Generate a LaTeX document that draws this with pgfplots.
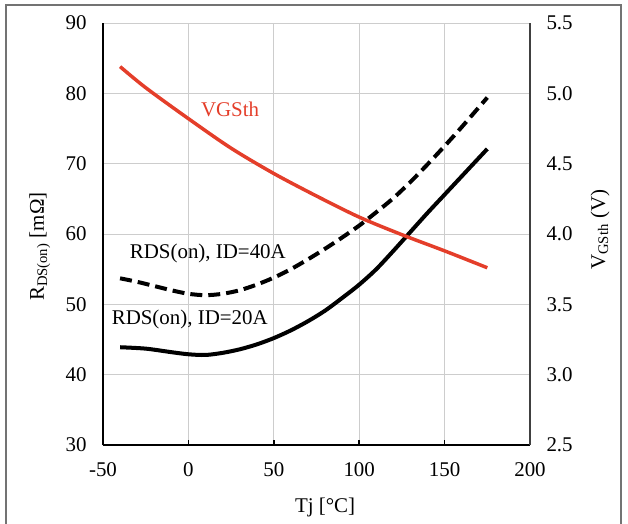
\documentclass[border=0pt]{standalone}
\usepackage{fontspec}
\setmainfont{Liberation Serif}
\usepackage{pgfplots}
\pgfplotsset{compat=1.18}
\definecolor{vgsred}{RGB}{228,62,42}
\definecolor{gridgray}{RGB}{205,205,205}
\definecolor{framegray}{RGB}{115,115,115}

\begin{document}
\begin{tikzpicture}
\pgfplotsset{
  every axis/.append style={
    scale only axis, width=427bp, height=422bp,
    xmin=-50, xmax=200,
    font=\fontsize{21}{25}\selectfont,
    /pgf/number format/assume math mode=true,
  }
}
% left axis: RDS(on)
\begin{axis}[
  axis x line*=bottom, axis y line*=left,
  axis line style={-, line width=1.8bp, black},
  ymin=30, ymax=90,
  xtick={-50,0,50,100,150,200}, ytick={30,40,50,60,70,80,90},
  grid=major, major grid style={gridgray, line width=1bp},
  tick align=inside, major tick length=5bp,
  ytick style={draw=none},
  xtick style={black, line width=1.5bp},
  xticklabel style={yshift=-14bp},
  yticklabel style={xshift=-13bp},
  xlabel={Tj [°C]},
  xlabel style={at={(axis description cs:0.52,-0.148)}, anchor=center},
  ylabel={R\textsubscript{DS(on)} [mΩ]},
  ylabel style={at={(axis description cs:-0.148,0.47)}, anchor=center},
]
% ID = 20 A
\addplot[black, line width=4bp, smooth] coordinates {
  (-40,43.9) (-25,43.7) (-10,43.2) (0,42.9) (10,42.8) (20,43.1) (30,43.6)
  (40,44.3) (50,45.2) (60,46.3) (70,47.6) (80,49.1) (90,50.9) (100,52.8)
  (110,55.0) (120,57.6) (130,60.3) (140,63.0) (150,65.6) (160,68.2)
  (170,70.8) (175,72.1)
};
% ID = 40 A
\addplot[black, line width=4bp, smooth, dash pattern=on 12bp off 6bp] coordinates {
  (-40,53.7) (-30,53.2) (-20,52.6) (-10,52.0) (0,51.5) (10,51.3) (20,51.5)
  (30,52.0) (40,52.8) (50,53.8) (60,55.0) (70,56.4) (80,57.9) (90,59.5)
  (100,61.2) (110,63.1) (120,65.1) (130,67.4) (140,69.9) (150,72.5)
  (160,75.2) (170,78.0) (175,79.4)
};
\node[vgsred] at (axis cs:24.4,77.7) {VGSth};
\node at (axis cs:11.4,57.3) {RDS(on), ID=40A};
\node at (axis cs:0.8,47.8) {RDS(on), ID=20A};
\end{axis}
% right axis: VGSth
\begin{axis}[
  axis y line*=right, axis x line=none,
  axis line style={-, line width=1.8bp, black!75},
  ymin=2.5, ymax=5.5, ytick={2.5,3.0,3.5,4.0,4.5,5.0,5.5},
  yticklabel style={xshift=13bp, /pgf/number format/.cd, fixed, fixed zerofill, precision=1},
  ytick style={draw=none},
  ylabel={V\textsubscript{GSth} (V)},
  ylabel style={at={(axis description cs:1.164,0.51)}, anchor=center, rotate=0},
]
\addplot[vgsred, line width=3.5bp, smooth] coordinates {
  (-40,5.19) (-25,5.04) (0,4.82) (25,4.61) (50,4.43) (75,4.27)
  (100,4.12) (125,3.995) (150,3.88) (175,3.76)
};
\end{axis}
\draw[framegray, line width=1.2bp] (-97bp,-79bp) -- (-97bp,440bp) -- (518bp,440bp) -- (518bp,-79bp);
\pgfresetboundingbox
\useasboundingbox (-103bp,-79bp) rectangle (525bp,445bp);
\end{tikzpicture}
\end{document}
